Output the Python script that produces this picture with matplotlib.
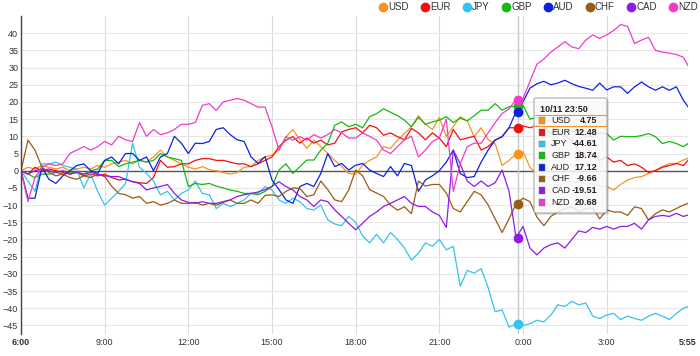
import numpy as np
import pandas as pd
import matplotlib
matplotlib.use('Agg')
import matplotlib.pyplot as plt
import matplotlib.dates as mdates
from matplotlib.lines import Line2D
from matplotlib.patches import FancyBboxPatch, Rectangle

plt.rcParams['font.family'] = ['Liberation Sans', 'DejaVu Sans']

# 15 minute samples 10/11 6:00 -> 10/12 5:45, plus the last 5:55 point
times = list(pd.date_range('2015-10-11 06:00', '2015-10-12 05:45', freq='15min')) + [pd.Timestamp('2015-10-12 05:55')]

names = ['USD', 'EUR', 'JPY', 'GBP', 'AUD', 'CHF', 'CAD', 'NZD']
colors = ['#f7931e', '#ee1111', '#33c3ee', '#11bb11', '#0a22e0', '#9a5b14', '#8e1be8', '#f03cc8']

usd = [0, 1, 0.5, 1.5, 1, 0.5, 1, 0, 0.5, 1, 0.5, 1.5, 1, 2, 2.5, 3, 2, 3, 2.5, 4, 6, 4, 3, 2, 1,
       0.5, 1.2, 0.3, 0, -0.5, -1, -0.5, 1, 1.2, 3, 4, 4.5, 6, 9.9, 12, 9, 6.5, 8.9, 7, 5, 3, 1.2, -0.8, -1,
       1.6, 3, 4, 7, 6.5, 8.9, 10.8, 12.8, 16, 13.5, 12, 15.5, 10, 12.8, 15.7, 14.5, 9.9, 12.5, 9, 7.9, 1.5, 3, 4.75,
       5.5, 1, -1, -1.5, -2, -2.5, -3, -3.2, -3.5, -3.8, -4, -4.3, -4.6, -5.6, -4, -2.7, -2, -1.7, -0.8, 0.2, 1.2, 2.1, 2.1, 3.1, 3.6]
eur = [0, -1, 1, 0, 0.5, 0, -0.5, -1, -0.5, -1.5, -1, -1.5, -1, -2, -2.7, -2.5, -3.2, -3.5, -3.7, -2, 3, 1, 1.2, 2, 2,
       3, 3.5, 3.5, 3, 3, 2.5, 2, 2, 1.2, 2, 3, 4, 7, 8.9, 9.9, 8, 9.5, 8, 8.9, 7.5, 8, 11.3, 12, 12.5,
       11, 13.2, 12.5, 10.3, 11, 9.9, 9, 12.3, 11, 9, 11, 9.5, 7, 12, 9, 9.5, 10, 6, 7, 8.9, 9.9, 12.5, 12.48,
       13, 12.5, 13.2, 12.7, 13, 11, 9.9, 9, 6, 4, 5, 3, 4, 2.5, 3, 1.5, 2, 1, -0.5, 0, 1, 1.5, 2.1, 1.5, 3]
jpy = [0, -3, -6, 2, 2, 2.5, 1.5, 1, 0.5, -5, -1, -6, -10, -8, -6, -3.7, 8, 1, -0.8, -3, -7, -6, -8.5, -6.6, -5.6,
       -3, -6.6, -7, -11, -9.5, -10.4, -9.5, -8.5, -6.6, -6.6, -4.6, -5.6, -8.5, -9.5, -8, -9, -11, -11.4, -10, -14.3, -15.5, -16, -13.3, -15,
       -19, -21, -18.5, -21, -18, -20, -22.5, -26, -24, -21, -22, -20, -23, -22, -33.6, -29, -29.8, -28.5, -34, -41, -40.5, -45.5, -44.61,
       -45, -44.5, -43.5, -44, -42, -39, -39.5, -38, -39, -38.5, -42.3, -43, -42, -41.5, -43.3, -42.3, -43, -43.5, -42.3, -41.5, -42.3, -43.3, -41.5, -40, -39.5]
gbp = [0, -1, -2, -1, -1, -0.5, -1, -0.5, -0.5, -1, 0, 0.5, 3, 3, 1.2, 2, 2.5, 3, 2.5, 3, 5, 4, 3.5, 3, -4.6,
       -3.7, -4, -3.7, -4.5, -5, -5.6, -6, -6.6, -6.6, -7, -6, -4.6, 0.2, 2, -0.8, 1.2, 3.1, 3.1, 6, 8, 13.2, 14.2, 12.8, 13.5,
       12.5, 15.7, 16.6, 18, 17, 16, 14.7, 12.8, 15.5, 13.5, 14.2, 14.7, 15.7, 14, 15.3, 14.5, 16, 17.6, 17.6, 19.5, 17.6, 18.6, 18.74,
       19, 15, 15.5, 13, 10.8, 12.5, 10.8, 11.5, 11, 9.9, 10, 11, 10.8, 8.9, 10, 9.9, 9.9, 10.2, 10.8, 9.9, 7.9, 8.5, 7.9, 7, 7.9]
aud = [0, -8, -8, 1, -2.5, -3.7, -1.5, 0, 1.5, 2, 0, -0.8, 3, 4, 2, 5, 5, 3, 4, 0, 4, 5, 10, 8, 5,
       8, 7.9, 8.5, 12, 12.5, 10.5, 9, 8.5, 4, 2.1, 4.1, -2.7, -5.5, -8.5, -9.5, -4.6, -3.7, -4.6, -0.8, 5, 1.2, 2.1, 0.2, 1.6,
       2.1, 0.2, -0.8, -1.7, 1.2, -1.5, 2.1, 1.5, -6, -2.7, -1.5, 0, 2.5, 6, -0.8, -2, -1.7, 2.5, 6, 8.9, 9.9, 12.5, 17.12,
       20, 24, 25.3, 26, 25, 25.5, 26.3, 25.3, 24.5, 24, 23.4, 25.5, 23.5, 24.4, 24.4, 22.5, 24.4, 25.8, 24.4, 23.4, 24.4, 23.4, 24.4, 20.5, 18.6]
chf = [0, 8.9, 6, 1, -0.5, -1.5, -1, -2, -2.5, -1.5, -2, -1, -1.7, -4.5, -6.6, -7, -8, -7.5, -9.5, -9, -10, -9.5, -8.5, -9.5, -9.5,
       -9.2, -10, -9.5, -10, -9.2, -8.5, -9.5, -9.5, -8.5, -9.5, -7.2, -7, -7.5, -6, -5, -5.2, -7.5, -7, -3, -5.5, -8.5, -9, -5.6, 0.2,
       -1.5, -5.5, -6.5, -7.5, -10, -11.5, -10.5, -12.5, -3, -4.5, -4, -4, -6.5, -11, -12, -9, -6, -7, -10, -14, -18, -14, -9.66,
       -8, -9, -13.5, -16, -13.3, -12, -11, -10.5, -12, -11, -10.8, -14, -11.4, -12, -12, -13, -10.5, -11, -14.3, -12.5, -11.4, -12, -11, -10, -9.5]
cad = [0, -1, 0, 0.5, 0, -0.5, 0, -1, -0.5, -1, -0.5, -1, -1.5, -1.7, -1.7, -2.5, -3.2, -3.7, -5.6, -5, -4.6, -4, -6.6, -8.5, -9.2,
       -9.5, -9, -9.5, -9.5, -9, -8.5, -7.5, -7, -6.6, -6.2, -5.5, -4.6, -3.2, -4.6, -5.6, -7.5, -8.5, -10.4, -8.5, -9, -11.4, -13.3, -15.3, -17.2,
       -15.3, -13.3, -12, -10.4, -9.5, -8.5, -7.5, -9.5, -10.4, -10.4, -12, -13, -16.5, 6, 2, -3, -4.6, -3, -4.6, -3.5, 0.2, -6, -19.51,
       -16.2, -22.5, -24.5, -22.5, -21.5, -21, -22.5, -20, -17.5, -18, -16.5, -17, -16.2, -17, -16.2, -16.2, -15.3, -17, -14.3, -13.3, -13, -13.3, -12.4, -13.3, -12.9]
nzd = [0, -9, -2, 1, 2, 1.5, 2, 5, 6, 7, 6, 7, 8.5, 7.5, 10, 9, 8.5, 14, 10, 12, 10.5, 11, 12, 13.5, 13.5,
       14, 19, 19.5, 17.5, 20, 20.5, 21, 20.5, 19.5, 18.5, 18.5, 12.8, 6, 9.9, 8.9, 9.9, 8.9, 10.5, 9.5, 10.5, 12, 11, 9.5, 9.5,
       11, 10, 8.9, 6, 5, 7, 9, 10, 4, 6, 8.5, 9.5, 15, -6, 2, 7, 8, 8, 11, 14, 16.6, 18, 20.68,
       21, 26, 31, 32.5, 34.5, 36, 37.5, 36, 35.5, 38, 39.5, 38.5, 39.5, 40.8, 42.5, 42, 37, 38, 38.8, 35, 34.5, 34.2, 33.8, 33, 30.6]
series = [usd, eur, jpy, gbp, aud, chf, cad, nzd]

# hover tooltip
cursor_time = pd.Timestamp('2015-10-11 23:50')
tip_values = [4.75, 12.48, -44.61, 18.74, 17.12, -9.66, -19.51, 20.68]

tick_times = [pd.Timestamp('2015-10-11 06:00'), pd.Timestamp('2015-10-11 09:00'), pd.Timestamp('2015-10-11 12:00'),
              pd.Timestamp('2015-10-11 15:00'), pd.Timestamp('2015-10-11 18:00'), pd.Timestamp('2015-10-11 21:00'),
              pd.Timestamp('2015-10-12 00:00'), pd.Timestamp('2015-10-12 03:00'), pd.Timestamp('2015-10-12 05:55')]
tick_labels = ['6:00', '9:00', '12:00', '15:00', '18:00', '21:00', '0:00', '3:00', '5:55']

fig = plt.figure(figsize=(7, 3.56), dpi=100)
ax = fig.add_axes([21 / 700, 22 / 356, 667 / 700, 318 / 356])

for t in tick_times[1:-1]:
    ax.axvline(t, color='#dcdcdc', lw=0.8, zorder=0)
for v in range(-45, 45, 5):
    ax.axhline(v, color='#e6e6e6', lw=0.8, zorder=0)
ax.axhline(0, color='#555555', lw=1.0, zorder=1)

ax.axvline(cursor_time, color='#c8c8c8', lw=1.0, zorder=1)

for vals, c in zip(series, colors):
    ax.plot(times, vals, color=c, lw=0.9, zorder=2)
for v, c in zip(tip_values, colors):
    ax.plot([cursor_time], [v], 'o', color=c, ms=6, mec=c, zorder=4)

ax.set_xlim(times[0], times[-1])
ax.set_ylim(-47.5, 45)
ax.set_yticks(range(-45, 45, 5))
ax.set_xticks([mdates.date2num(t) for t in tick_times])
ax.set_xticklabels(tick_labels)
for lab in (ax.get_xticklabels()[0], ax.get_xticklabels()[-1]):
    lab.set_fontweight('bold')
ax.tick_params(axis='both', length=0, labelsize=6.5, colors='#333333')
ax.tick_params(axis='y', pad=2)
ax.tick_params(axis='x', pad=3)
for s in ['top', 'right', 'bottom']:
    ax.spines[s].set_visible(False)
ax.spines['left'].set_color('#444444')
ax.spines['left'].set_linewidth(1.0)

# legend along the top
handles = [Line2D([], [], marker='o', ls='', color=c, ms=6) for c in colors]
fig.legend(handles, names, ncol=8, loc='center right', bbox_to_anchor=(0.997, 1 - 7.5 / 356), frameon=False,
           fontsize=7, handletextpad=0.05, columnspacing=1.15, handlelength=1.0, labelcolor='#333333',
           borderpad=0, borderaxespad=0)

# tooltip box
W, H = 700.0, 356.0
x0, x1, y0, y1 = 534, 607, 98, 213
shadow = FancyBboxPatch(((x0 + 2) / W, 1 - (y1 + 2) / H), (x1 - x0) / W, (y1 - y0) / H,
                        boxstyle='round,pad=0,rounding_size=0.004', transform=fig.transFigure,
                        facecolor='#000000', alpha=0.12, edgecolor='none', zorder=10)
box = FancyBboxPatch((x0 / W, 1 - y1 / H), (x1 - x0) / W, (y1 - y0) / H,
                     boxstyle='round,pad=0,rounding_size=0.004', transform=fig.transFigure,
                     facecolor='white', alpha=0.85, edgecolor='#999999', lw=0.8, zorder=11)
fig.patches.extend([shadow, box])
fig.text((x0 + 6) / W, 1 - 109 / H, cursor_time.strftime('%m/%d %H:%M'), fontsize=6.5, fontweight='bold',
         color='#222222', va='center', ha='left', zorder=12)
for yy in (115, 126):
    fig.add_artist(Line2D([(x0 + 1) / W, (x1 - 1) / W], [1 - yy / H, 1 - yy / H], color=colors[0],
                          lw=0.8, transform=fig.transFigure, zorder=12))
for i, (n, v, c) in enumerate(zip(names, tip_values, colors)):
    yc = 120.5 + 11.7 * i
    fig.patches.append(Rectangle((538.5 / W, 1 - (yc + 3.3) / H), 6.6 / W, 6.6 / H, transform=fig.transFigure,
                                 facecolor=c, edgecolor='#777777', lw=0.3, zorder=12))
    fig.text(551 / W, 1 - yc / H, n, fontsize=6.5, color='#222222', va='center', ha='left', zorder=12)
    fig.text(597 / W, 1 - yc / H, f'{v:.2f}', fontsize=6.5, fontweight='bold', color='#222222',
             va='center', ha='right', zorder=12)

fig.savefig('out.png', dpi=100)
